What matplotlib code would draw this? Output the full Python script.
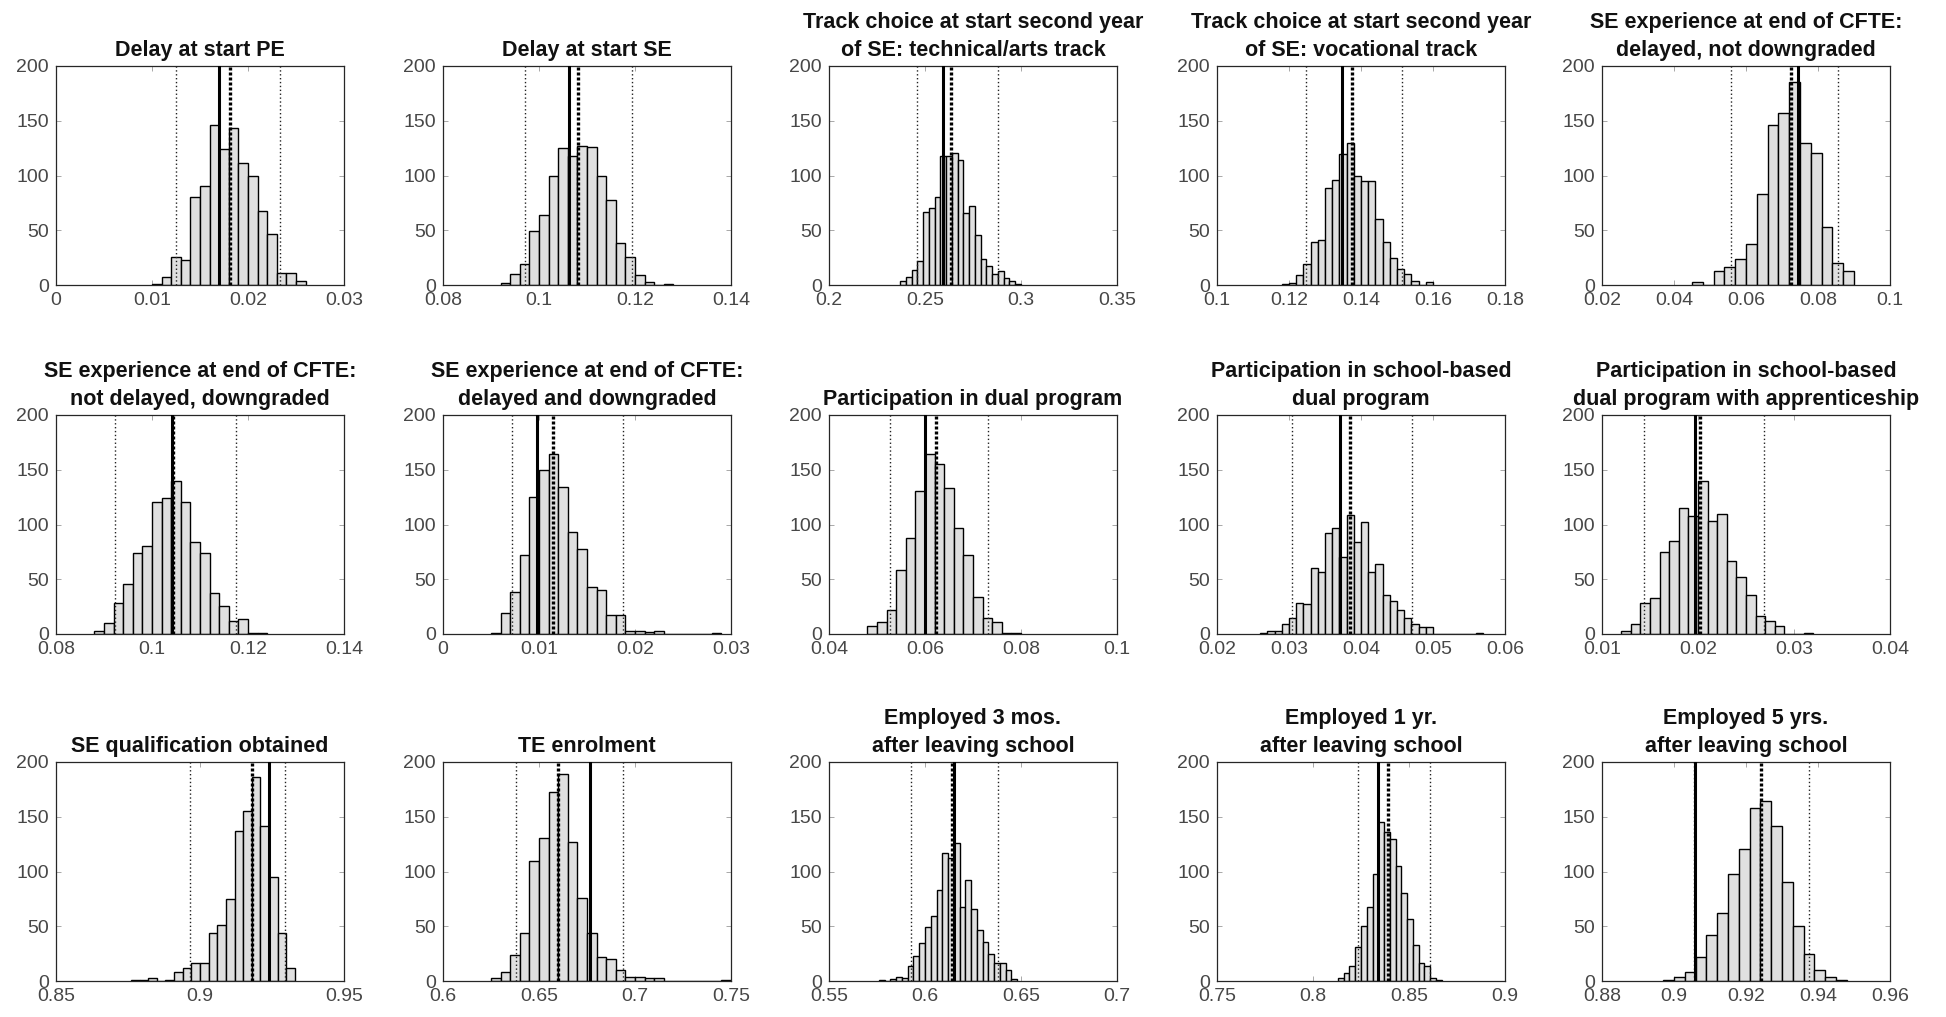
import numpy as np
import matplotlib
matplotlib.use("Agg")
import matplotlib.pyplot as plt
from matplotlib.ticker import FuncFormatter, FixedLocator

plt.rcParams["font.family"] = ["Liberation Sans", "DejaVu Sans"]

# ---------------- data ----------------
titles = [
    "Delay at start PE",
    "Delay at start SE",
    "Track choice at start second year\nof SE: technical/arts track",
    "Track choice at start second year\nof SE: vocational track",
    "SE experience at end of CFTE:\ndelayed, not downgraded",
    "SE experience at end of CFTE:\nnot delayed, downgraded",
    "SE experience at end of CFTE:\ndelayed and downgraded",
    "Participation in dual program",
    "Participation in school-based\ndual program",
    "Participation in school-based\ndual program with apprenticeship",
    "SE qualification obtained",
    "TE enrolment",
    "Employed 3 mos.\nafter leaving school",
    "Employed 1 yr.\nafter leaving school",
    "Employed 5 yrs.\nafter leaving school",
]

bin_start = [0.010, 0.092, 0.237, 0.118, 0.045,
             0.088, 0.005, 0.048, 0.026, 0.012,
             0.876, 0.625, 0.576, 0.813, 0.897]
bin_width = [0.001, 0.002, 0.003, 0.002, 0.003,
             0.002, 0.001, 0.002, 0.001, 0.001,
             0.003, 0.005, 0.003, 0.003, 0.003]

counts_1 = [1, 7, 26, 23, 80, 90, 146, 124, 143, 111, 100, 68, 47, 11, 11, 4]
counts_2 = [2, 10, 19, 49, 64, 100, 125, 118, 127, 126, 100, 78, 38, 26, 9, 3, 0, 1]
counts_3 = [4, 7, 14, 22, 67, 70, 80, 118, 118, 121, 114, 66, 72, 46, 24, 17, 10, 13, 6, 4, 1]
counts_4 = [1, 2, 9, 19, 39, 41, 89, 96, 120, 130, 100, 95, 95, 60, 39, 25, 15, 10, 4, 0, 3]
counts_5 = [3, 0, 13, 16, 24, 37, 83, 146, 157, 185, 130, 121, 53, 20, 13]
counts_6 = [3, 10, 28, 46, 74, 80, 121, 124, 140, 121, 84, 74, 37, 26, 12, 14, 1, 1]
counts_7 = [1, 19, 38, 72, 125, 150, 164, 134, 93, 78, 43, 40, 17, 17, 3, 3, 2, 3,
            0, 0, 0, 0, 0, 1]
counts_8 = [7, 11, 22, 58, 88, 131, 164, 155, 133, 97, 72, 34, 15, 11, 1, 1]
counts_9 = [1, 3, 3, 9, 15, 28, 27, 60, 57, 92, 97, 70, 109, 84, 102, 57, 64, 36,
            30, 22, 15, 9, 6, 6, 0, 0, 0, 0, 0, 0, 1]
counts_10 = [3, 9, 28, 33, 75, 85, 115, 108, 140, 103, 110, 67, 52, 36, 16, 12, 7,
             0, 0, 1]
counts_11 = [1, 1, 3, 0, 1, 8, 12, 16, 16, 44, 51, 75, 137, 155, 186, 142, 95, 44, 12]
counts_12 = [3, 8, 24, 44, 110, 131, 173, 189, 127, 76, 44, 22, 20, 10, 4, 4, 3, 3,
             0, 0, 0, 0, 0, 0, 1]
counts_13 = [1, 0, 2, 4, 3, 14, 23, 35, 49, 59, 83, 117, 112, 126, 68, 92, 66, 47,
             36, 25, 16, 16, 10, 2]
counts_14 = [3, 7, 14, 31, 50, 68, 98, 145, 136, 130, 105, 80, 57, 33, 16, 14, 3, 1]
counts_15 = [1, 4, 8, 22, 42, 62, 98, 121, 158, 164, 142, 90, 50, 25, 10, 4, 1]

all_counts = [counts_1, counts_2, counts_3, counts_4, counts_5,
              counts_6, counts_7, counts_8, counts_9, counts_10,
              counts_11, counts_12, counts_13, counts_14, counts_15]

# solid line (true value), thick dotted (mean), thin dotted (bounds)
true_val = [0.0170, 0.1062, 0.2595, 0.1347, 0.0745,
            0.1042, 0.00975, 0.0599, 0.03715, 0.0197,
            0.9240, 0.6767, 0.6151, 0.8341, 0.9059]
mean_val = [0.0181, 0.1082, 0.2635, 0.1374, 0.0725,
            0.1043, 0.01148, 0.0623, 0.03845, 0.0202,
            0.9179, 0.6600, 0.6143, 0.8391, 0.9242]
lo_val = [0.01247, 0.0971, 0.2456, 0.1248, 0.0559,
          0.0923, 0.0072, 0.0527, 0.0304, 0.01438,
          0.8964, 0.6379, 0.5926, 0.8236, 0.9056]
hi_val = [0.02333, 0.1193, 0.2881, 0.1514, 0.0855,
          0.1174, 0.0187, 0.0732, 0.0471, 0.0269,
          0.9295, 0.6939, 0.6380, 0.8610, 0.9375]

xticks = [
    [0, 0.01, 0.02, 0.03],
    [0.08, 0.1, 0.12, 0.14],
    [0.2, 0.25, 0.3, 0.35],
    [0.1, 0.12, 0.14, 0.16, 0.18],
    [0.02, 0.04, 0.06, 0.08, 0.1],
    [0.08, 0.1, 0.12, 0.14],
    [0, 0.01, 0.02, 0.03],
    [0.04, 0.06, 0.08, 0.1],
    [0.02, 0.03, 0.04, 0.05, 0.06],
    [0.01, 0.02, 0.03, 0.04],
    [0.85, 0.9, 0.95],
    [0.6, 0.65, 0.7, 0.75],
    [0.55, 0.6, 0.65, 0.7],
    [0.75, 0.8, 0.85, 0.9],
    [0.88, 0.9, 0.92, 0.94, 0.96],
]
yticks = [0, 50, 100, 150, 200]

# ---------------- figure ----------------
W, H = 1946, 1017
fig = plt.figure(figsize=(W / 100, H / 100), dpi=100)

col_left = [56, 443, 829, 1217, 1602]
row_top = [66, 415, 762]
ax_w, ax_h = 288, 219

fmt = FuncFormatter(lambda v, p: "{:g}".format(round(v, 6)))
tick_col = "#474747"

for i in range(15):
    r, c = divmod(i, 5)
    x0 = col_left[c] / W
    y0 = 1 - (row_top[r] + ax_h) / H
    ax = fig.add_axes([x0, y0, ax_w / W, ax_h / H])

    cnt = np.array(all_counts[i], dtype=float)
    edges = bin_start[i] + bin_width[i] * np.arange(len(cnt))
    ax.bar(edges, cnt, width=bin_width[i], align="edge",
           color="#e0e0e0", edgecolor="black", linewidth=1.0, zorder=2)

    ax.axvline(lo_val[i], color="#222222", lw=1.0, ls=(0, (1, 1.8)), zorder=3)
    ax.axvline(hi_val[i], color="#222222", lw=1.0, ls=(0, (1, 1.8)), zorder=3)
    ax.axvline(true_val[i], color="black", lw=2.2, ls="-", zorder=4)
    ax.axvline(mean_val[i], color="black", lw=2.4, ls=(0, (0.9, 0.6)), zorder=4)

    ax.set_xlim(xticks[i][0], xticks[i][-1])
    ax.set_ylim(0, 200)
    ax.xaxis.set_major_locator(FixedLocator(xticks[i]))
    ax.yaxis.set_major_locator(FixedLocator(yticks))
    ax.xaxis.set_major_formatter(fmt)
    ax.tick_params(direction="in", length=3.5, width=0.6, colors="#9a9a9a",
                   labelcolor=tick_col, labelsize=14, top=True, right=True,
                   pad=5)
    for s in ax.spines.values():
        s.set_color("#262626")
        s.set_linewidth(0.9)

    ax.set_title(titles[i], fontsize=15.5, fontweight="bold", pad=7,
                 linespacing=1.45, color="#111111")

fig.savefig("out.png", dpi=100)
